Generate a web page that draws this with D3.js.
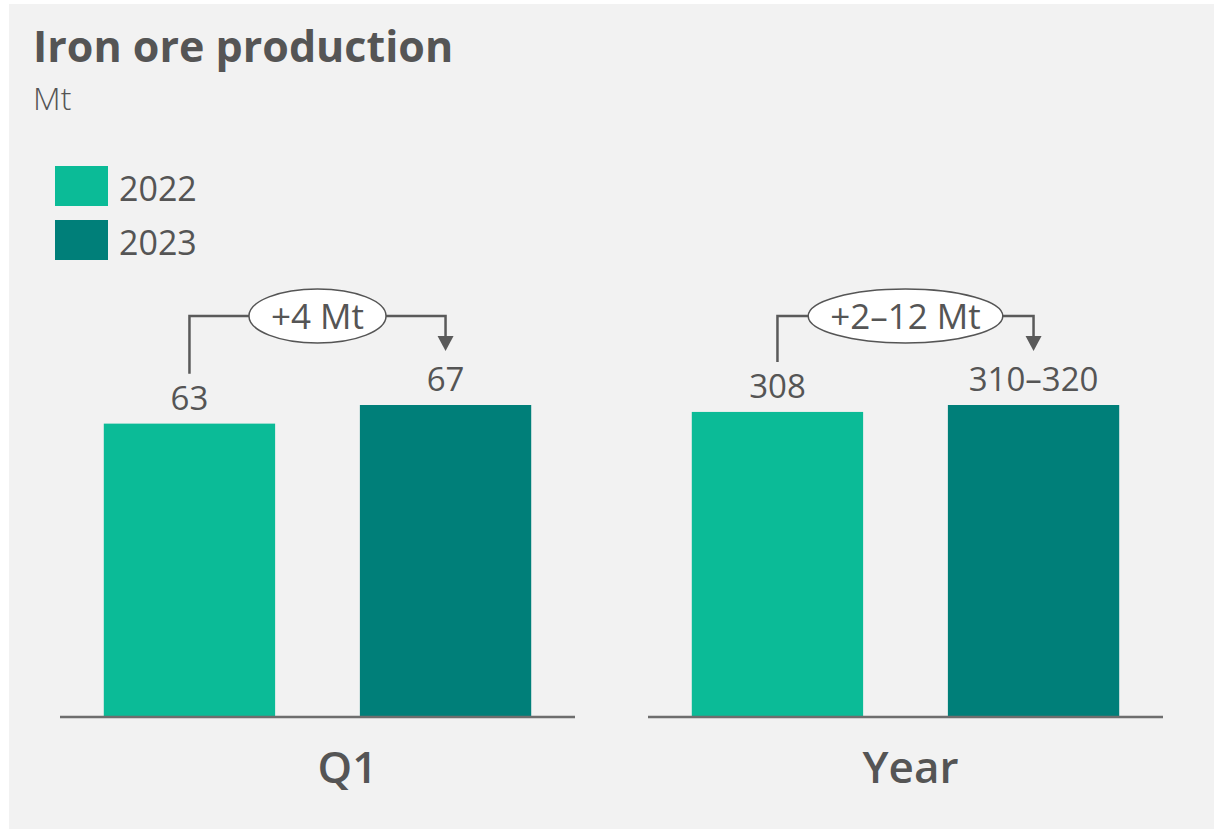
<html>
<head>
<meta charset="utf-8">
<script src="https://d3js.org/d3.v7.min.js"></script>
<style>
body { margin: 0; background: #ffffff; }
text { font-family: "Open Sans", sans-serif; fill: #555555; }
</style>
</head>
<body>
<div id="chart"></div>
<script>

// data
var panels = ['Q1', 'Year']
var seriesYears = ['2022', '2023']
var q1Values = [63, 67]
var yearValues = [308, 315]          // 2023 guidance 310-320, bar drawn at midpoint
var q1Labels = ['63', '67']
var yearLabels = ['308', '310\u2013320']
var changeLabels = ['+4 Mt', '+2\u201312 Mt']

var colors = d3.scaleOrdinal().domain(seriesYears).range(['#0bbb97', '#007f79'])

var width = 1214
var height = 829
var baseY = 717
var topY = 405
var panelWidth = 515
var panelStarts = [60, 648]
var labelNudge = [30, 5]

var svg = d3.select('#chart')
    .append('svg')
        .attr('width', width)
        .attr('height', height)

svg.append('rect')
    .attr('x', 9)
    .attr('y', 4)
    .attr('width', width - 9)
    .attr('height', height - 4)
    .attr('fill', '#f2f2f2')

svg.append('text')
    .attr('x', 33)
    .attr('y', 62)
    .style('font-size', '43px')
    .style('font-weight', 700)
    .text('Iron ore production')

svg.append('text')
    .attr('x', 33)
    .attr('y', 110)
    .style('font-size', '32px')
    .style('font-weight', 300)
    .text('Mt')

// legend
var legend = svg.append('g')
    .selectAll('g')
    .data(seriesYears)
    .enter()
    .append('g')
    .attr('transform', function(d, i) { return 'translate(55,' + (166 + i * 54) + ')' })

legend.append('rect')
    .attr('width', 53)
    .attr('height', 40)
    .attr('fill', function(d) { return colors(d) })

legend.append('text')
    .attr('x', 64)
    .attr('y', 35)
    .style('font-size', '34px')
    .text(function(d) { return d })

var allValues = [q1Values, yearValues]
var allLabels = [q1Labels, yearLabels]

panels.forEach(function(p, pi) {
    var x0 = panelStarts[pi]
    var values = allValues[pi]
    var labels = allLabels[pi]

    var xs = d3.scaleBand().domain(seriesYears)
        .range([x0, x0 + panelWidth])
        .paddingInner(0.331)
        .paddingOuter(0.171)
    // each panel has its own scale, tallest bar reaches the same height
    var ys = d3.scaleLinear().domain([0, d3.max(values)]).range([baseY, topY])

    var g = svg.append('g')

    g.selectAll('rect')
        .data(seriesYears)
        .enter()
        .append('rect')
        .attr('x', function(d) { return xs(d) })
        .attr('y', function(d, i) { return ys(values[i]) })
        .attr('width', xs.bandwidth())
        .attr('height', function(d, i) { return baseY - ys(values[i]) })
        .attr('fill', function(d) { return colors(d) })

    g.selectAll('.val')
        .data(seriesYears)
        .enter()
        .append('text')
        .attr('class', 'val')
        .attr('x', function(d) { return xs(d) + xs.bandwidth() / 2 })
        .attr('y', function(d, i) { return ys(values[i]) - 14 })
        .attr('text-anchor', 'middle')
        .style('font-size', '33px')
        .text(function(d, i) { return labels[i] })

    // baseline
    g.append('line')
        .attr('x1', x0)
        .attr('x2', x0 + panelWidth)
        .attr('y1', baseY)
        .attr('y2', baseY)
        .attr('stroke', '#6e6e6e')
        .attr('stroke-width', 2.5)

    g.append('text')
        .attr('x', x0 + panelWidth / 2 + labelNudge[pi])
        .attr('y', 783)
        .attr('text-anchor', 'middle')
        .style('font-size', '44px')
        .style('font-weight', 600)
        .text(p)

    // change bracket from first bar to second
    var xa = xs(seriesYears[0]) + xs.bandwidth() / 2
    var xb = xs(seriesYears[1]) + xs.bandwidth() / 2
    var topA = ys(values[0]) - 14 - 24
    var topB = ys(values[1]) - 14 - 24
    var by = ys(d3.max(values)) - 89

    g.append('path')
        .attr('d', 'M' + xa + ',' + (topA - 12) + 'V' + by + 'H' + xb + 'V' + (topB - 30))
        .attr('fill', 'none')
        .attr('stroke', '#5a5a5a')
        .attr('stroke-width', 2.5)

    g.append('path')
        .attr('d', 'M' + (xb - 8) + ',' + (topB - 31) + 'L' + (xb + 8) + ',' + (topB - 31) + 'L' + xb + ',' + (topB - 16) + 'Z')
        .attr('fill', '#5a5a5a')

    var ell = g.append('ellipse')
        .attr('cx', (xa + xb) / 2)
        .attr('cy', by)
        .attr('ry', 27)
        .attr('fill', '#ffffff')
        .attr('stroke', '#555555')
        .attr('stroke-width', 1.5)

    var t = g.append('text')
        .attr('x', (xa + xb) / 2)
        .attr('y', by + 13)
        .attr('text-anchor', 'middle')
        .style('font-size', '35px')
        .style('font-weight', 500)
        .text(changeLabels[pi])

    ell.attr('rx', t.node().getComputedTextLength() / 2 + 22)
})

</script>
</body>
</html>
